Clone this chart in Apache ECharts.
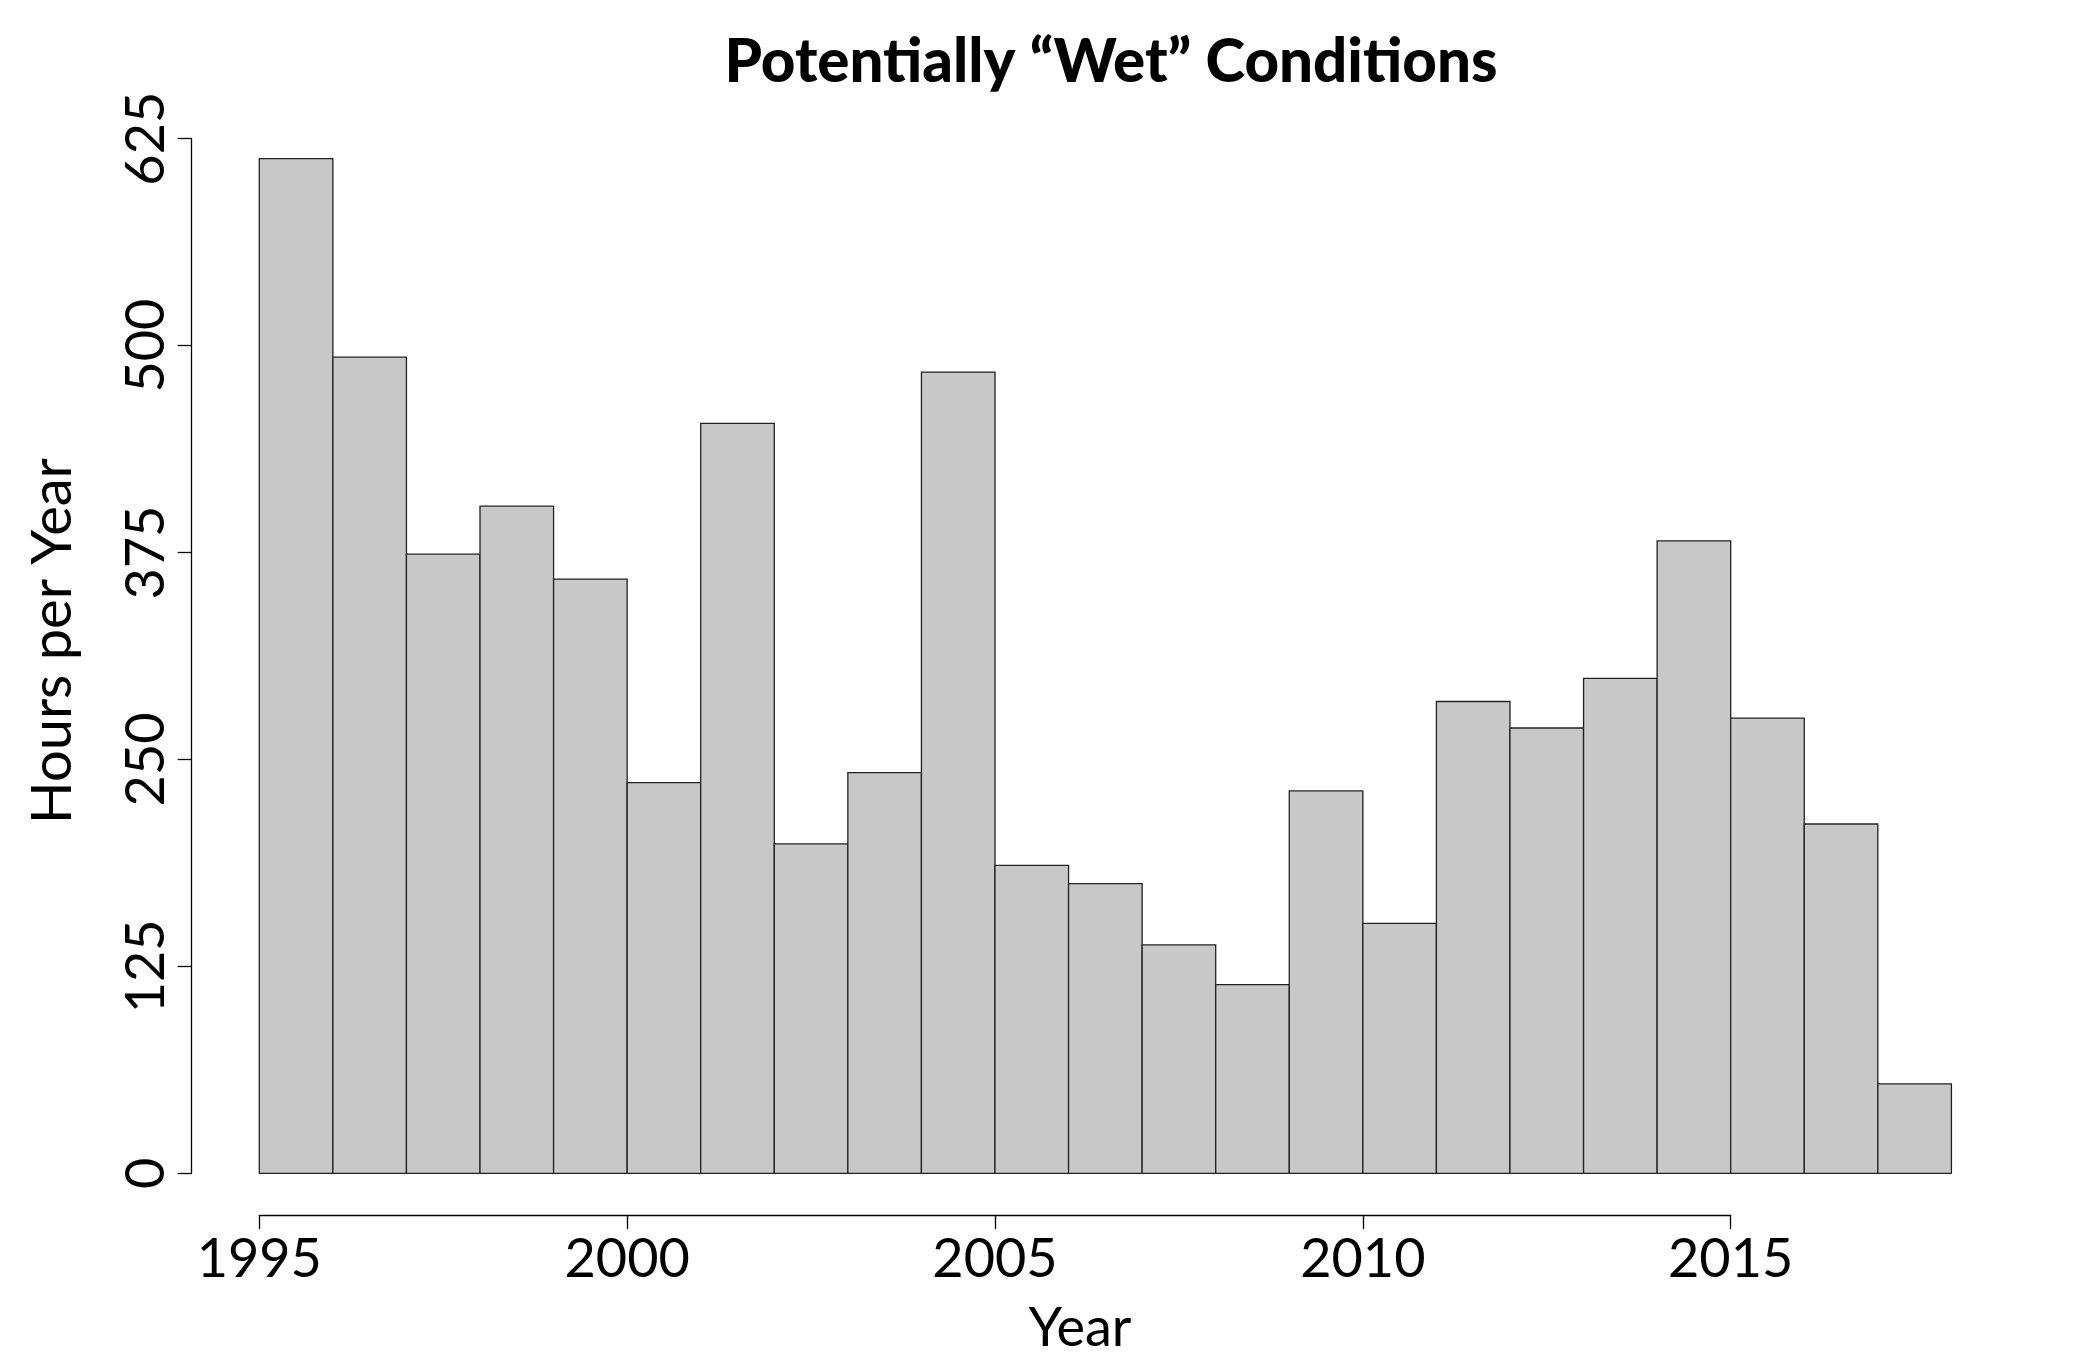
<!DOCTYPE html>
<html>
<head>
<meta charset="utf-8">
<script src="https://cdn.jsdelivr.net/npm/echarts@6/dist/echarts.min.js"></script>
<style>
html,body{margin:0;padding:0;background:#fff;}
#chart{width:2079px;height:1362px;}
</style>
</head>
<body>
<div id="chart"></div>
<script>
const years = [1995,1996,1997,1998,1999,2000,2001,2002,2003,2004,2005,2006,2007,2008,2009,2010,2011,2012,2013,2014,2015,2016,2017];
const hours = [613,493,374,403,359,236,453,199,242,484,186,175,138,114,231,151,285,269,299,382,275,211,54];
const yTicks = [0,125,250,375,500,625];
const xTicks = [1995,2000,2005,2010,2015];
const titleText = 'Potentially \u201cWet\u201d Conditions';
const xTitle = 'Year';
const yTitle = 'Hours per Year';

const FONT = 'Lato';
const chart = echarts.init(document.getElementById('chart'), null, {renderer:'canvas'});

const gridLeft = 259.3, gridWidth = 1692.1, gridTop = 138.7, gridHeight = 1034.6;
const yearPx = gridWidth / 23;

const option = {
  backgroundColor: '#ffffff',
  animation: false,
  title: [
    {text: titleText, left: 1106, top: 28, textAlign: 'center',
     textStyle: {fontFamily: FONT, fontWeight: 900, fontSize: 60, color: '#000'}},
    {text: xTitle, left: 1075, top: 1297, textAlign: 'center',
     textStyle: {fontFamily: FONT, fontWeight: 'normal', fontSize: 54, color: '#000'}}
  ],
  graphic: [
    {type: 'text', x: 53, y: 641, rotation: Math.PI/2,
     style: {text: yTitle, fontFamily: FONT, fontSize: 56, fill: '#000', align: 'center', verticalAlign: 'middle'}}
  ],
  grid: [
    {left: gridLeft, top: gridTop, width: gridWidth, height: gridHeight},
    {left: gridLeft, top: 1200, width: yearPx * 20, height: 15}
  ],
  xAxis: [
    {type: 'value', gridIndex: 0, min: 1995, max: 2018, show: false},
    {type: 'value', gridIndex: 1, min: 1995, max: 2015, interval: 5,
     axisLine: {show: true, lineStyle: {color: '#000', width: 1.3}},
     axisTick: {show: true, length: 14, lineStyle: {color: '#000', width: 1.3}},
     splitLine: {show: false},
     axisLabel: {show: true, margin: 18, fontFamily: FONT, fontSize: 54, color: '#000',
                 formatter: v => xTicks.includes(v) ? String(v) : ''}}
  ],
  yAxis: [
    {type: 'value', gridIndex: 0, min: 0, max: 625, interval: 125, offset: 67.6,
     axisLine: {show: true, lineStyle: {color: '#000', width: 1.3}},
     axisTick: {show: true, length: 14, lineStyle: {color: '#000', width: 1.3}},
     splitLine: {show: false},
     axisLabel: {show: true, rotate: 90, margin: 18, fontFamily: FONT, fontSize: 54, color: '#000',
                 formatter: v => yTicks.includes(v) ? String(v) : ''}},
    {type: 'value', gridIndex: 1, min: 0, max: 1, show: false}
  ],
  series: [{
    type: 'custom',
    xAxisIndex: 0, yAxisIndex: 0,
    data: years.map((y, i) => [y, hours[i]]),
    renderItem: function (params, api) {
      const x0 = api.value(0);
      const v = api.value(1);
      const p0 = api.coord([x0, 0]);
      const p1 = api.coord([x0 + 1, v]);
      return {
        type: 'rect',
        shape: {x: p0[0], y: p1[1], width: p1[0] - p0[0], height: p0[1] - p1[1]},
        style: {fill: '#c8c8c8', stroke: '#222', lineWidth: 1.3}
      };
    }
  }]
};
chart.setOption(option);
</script>
</body>
</html>
